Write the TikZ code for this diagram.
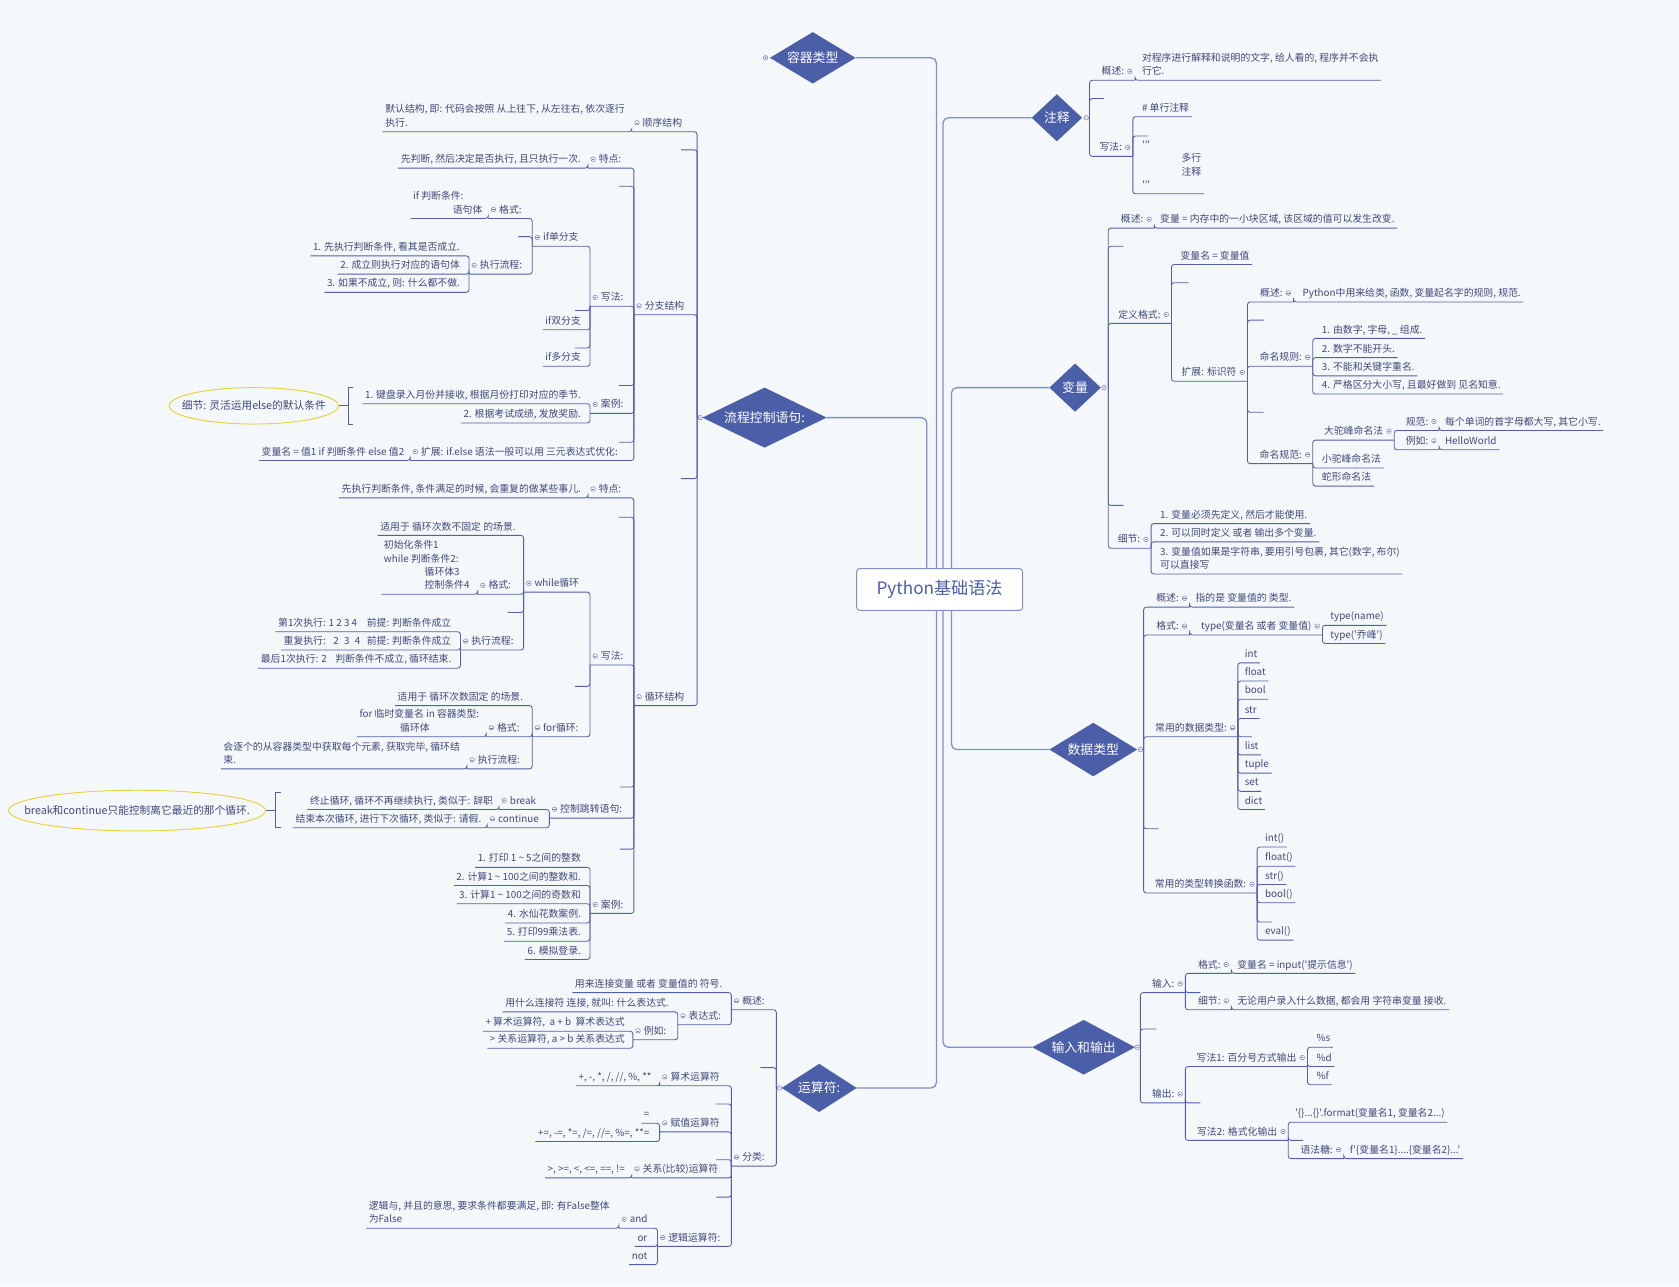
\documentclass[tikz,border=0pt]{standalone}
\usepackage{fontspec}
\usepackage{tikz}
\usetikzlibrary{shapes.geometric}
\newfontfamily\cjk{Noto Sans CJK SC}
\definecolor{bgc}{RGB}{245,248,250}
\definecolor{txc}{RGB}{62,72,124}
\definecolor{lnc}{RGB}{80,96,170}
\definecolor{trc}{RGB}{128,142,202}
\definecolor{dmc}{RGB}{75,94,168}
\definecolor{mkc}{RGB}{118,128,178}
\definecolor{ylc}{RGB}{232,210,60}
\newcommand\mkr{\tikz[baseline=-3.3pt]{\draw[mkc,line width=0.5pt,fill=white] (0,0) circle (2.1pt); \draw[mkc,line width=0.5pt] (-1.1pt,0) -- (1.1pt,0);}}

\begin{document}
\begin{tikzpicture}[x=1pt,y=-1pt,
  topic/.style={font=\cjk\fontsize{9.2}{12.5}\selectfont,text=txc,inner xsep=2.5pt,inner ysep=3pt,text depth=2pt,outer sep=0pt,align=left},
  tE/.style={topic,anchor=south east},
  tW/.style={topic,anchor=south west},
  br/.style={draw=lnc,line width=0.8pt,rounded corners=2.5pt},
  trunk/.style={draw=trc,line width=1.2pt,rounded corners=5pt},
  dia/.style={diamond,fill=dmc,text=white,inner sep=0pt,outer sep=0pt,aspect=1.7,font=\cjk\fontsize{12}{14}\selectfont},
  rootb/.style={draw=trc,line width=0.9pt,rounded corners=3pt,fill=white,text=dmc,font=\cjk\fontsize{16}{18}\selectfont,minimum width=155,minimum height=39},
  sumell/.style={ellipse,draw=ylc,line width=0.9pt,fill=bgc,text=txc,inner sep=0pt,font=\cjk\fontsize{10}{12}\selectfont},
  mkline/.style={draw=mkc,fill=white,line width=0.5pt}]
\path[fill=bgc,use as bounding box] (0,0) rectangle (1568,1201);

\node[rootb] (root) at (877.5,550.5) {Python基础语法};
\node[dia,minimum width=80,minimum height=48] (cont) at (759,54) {容器类型};
\node[dia,minimum width=116,minimum height=56] (flow) at (714,390) {流程控制语句:};
\node[dia,minimum width=70,minimum height=45] (oper) at (765,1016) {运算符:};
\node[dia,minimum width=47,minimum height=44] (note) at (987,110) {注释};
\node[dia,minimum width=48,minimum height=45] (var) at (1004,362) {变量};
\node[dia,minimum width=82,minimum height=50] (dtype) at (1021,700) {数据类型};
\node[dia,minimum width=96,minimum height=51] (io) at (1012,978) {输入和输出};

\draw[trunk] (cont.east) -| ([xshift=75pt]root.north west);
\draw[trunk] (flow.east) -| ([xshift=66pt]root.north west);
\draw[trunk] (note.west) -| ([xshift=81pt]root.north west);
\draw[trunk] (var.west) -| ([xshift=89pt]root.north west);
\draw[trunk] (oper.east) -| ([xshift=75pt]root.south west);
\draw[trunk] (io.west) -| ([xshift=81pt]root.south west);
\draw[trunk] (dtype.west) -| ([xshift=89pt]root.south west);

\coordinate (fk) at ([xshift=-5pt]flow.west);
\coordinate (ok) at ([xshift=-5pt]oper.west);
\coordinate (nk) at ([xshift=7pt]note.east);
\coordinate (vk) at ([xshift=7pt]var.east);
\coordinate (dk) at ([xshift=6pt]dtype.east);
\coordinate (ik) at ([xshift=5pt]io.east);

\node[tW] (f1) at (590,123) {\mkr\hspace{3pt}顺序结构};
\node[tE] (f1a) at (586,123) {默认结构, 即: 代码会按照 从上往下, 从左往右, 依次逐行\\执行.};
\coordinate (fs1) at (636,140);
\node[tW] (f2) at (592,294) {\mkr\hspace{3pt}分支结构};
\node[tW] (f2a) at (549,157) {\mkr\hspace{3pt}特点:};
\node[tE] (f2a1) at (545,157) {先判断, 然后决定是否执行, 且只执行一次.};
\coordinate (fs2) at (578,174);
\node[tW] (f2b) at (551,286) {\mkr\hspace{3pt}写法:};
\node[tW] (f2b1) at (497,230) {\mkr\hspace{3pt}if单分支};
\coordinate (fs3) at (484,221);
\node[tW] (f2b1a) at (456,204) {\mkr\hspace{3pt}格式:};
\node[tE] (f2b1a1) at (453,204) {if 判断条件:\\\hspace*{37pt}语句体};
\node[tW] (f2b1b) at (438,256) {\mkr\hspace{3pt}执行流程:};
\node[tE] (f2b1b1) at (432,239) {1. 先执行判断条件, 看其是否成立.};
\node[tE] (f2b1b2) at (432,256) {2. 成立则执行对应的语句体};
\node[tE] (f2b1b3) at (432,273) {3. 如果不成立, 则: 什么都不做.};
\coordinate (fs4) at (537,290);
\node[tE] (f2b2) at (545,308) {if双分支};
\coordinate (fs5) at (537,325);
\node[tE] (f2b3) at (545,342) {if多分支};
\coordinate (fs6) at (578,360);
\node[tW] (f2c) at (551,386) {\mkr\hspace{3pt}案例:};
\node[tE] (f2c1) at (545,377) {1. 键盘录入月份并接收, 根据月份打印对应的季节.};
\node[tE] (f2c2) at (545,395) {2. 根据考试成绩, 发放奖励.};
\coordinate (fs7) at (578,413);
\node[tW] (f2d) at (383,430) {\mkr\hspace{3pt}扩展: if.else 语法一般可以用 三元表达式优化:};
\node[tE] (f2d1) at (380,430) {变量名 = 值1 if 判断条件 else 值2};
\node[sumell,minimum width=158,minimum height=34] (e1) at (237,379) {\makebox[0pt]{细节: 灵活运用else的默认条件}};
\coordinate (e1a) at (325,362);
\coordinate (e1b) at (325,396);
\coordinate (e1m) at (325,379);

\coordinate (fs8) at (636,447);
\node[tW] (f3) at (592,659) {\mkr\hspace{3pt}循环结构};
\node[tW] (f3a) at (549,465) {\mkr\hspace{3pt}特点:};
\node[tE] (f3a1) at (545,465) {先执行判断条件, 条件满足的时候, 会重复的做某些事儿.};
\coordinate (fs9) at (578,483);
\node[tW] (f3b) at (551,621) {\mkr\hspace{3pt}写法:};
\node[tW] (f3b1) at (489,553) {\mkr\hspace{3pt}while循环};
\node[tE] (f3b1a) at (484,500) {适用于 循环次数不固定 的场景.};
\node[tW] (f3b1b) at (446,555) {\mkr\hspace{3pt}格式:};
\node[tE] (f3b1b1) at (441,555) {初始化条件1\\while 判断条件2:\\\hspace*{38pt}循环体3\\\hspace*{38pt}控制条件4};
\coordinate (fs10) at (474,572);
\node[tW] (f3b1c) at (430,607) {\mkr\hspace{3pt}执行流程:};
\node[tE] (f3b1c1) at (424,590) {第1次执行: 1 2 3 4\hspace{9pt}前提: 判断条件成立};
\node[tE] (f3b1c2) at (424,607) {重复执行:\hspace{7pt}2\hspace{5pt}3\hspace{5pt}4\hspace{6pt}前提: 判断条件成立};
\node[tE] (f3b1c3) at (424,624) {最后1次执行: 2\hspace{8pt}判断条件不成立, 循环结束.};
\coordinate (fs11) at (537,641);
\node[tW] (f3b2) at (497,688) {\mkr\hspace{3pt}for循环:};
\node[tE] (f3b2a) at (491,659) {适用于 循环次数固定 的场景.};
\node[tW] (f3b2b) at (454,688) {\mkr\hspace{3pt}格式:};
\node[tE] (f3b2b1) at (450,688) {for 临时变量名 in 容器类型:\\\hspace*{38pt}循环体};
\node[tW] (f3b2c) at (436,718) {\mkr\hspace{3pt}执行流程:};
\node[tE] (f3b2c1) at (432,718) {会逐个的从容器类型中获取每个元素, 获取完毕, 循环结\\束.};
\coordinate (fs12) at (579,735);
\node[tW] (f3c) at (513,764) {\mkr\hspace{3pt}控制跳转语句:};
\node[tW] (f3c1) at (466,756) {\mkr\hspace{3pt}break};
\node[tE] (f3c1a) at (463,756) {终止循环, 循环不再继续执行, 类似于: 辞职};
\node[tW] (f3c2) at (455,773) {\mkr\hspace{3pt}continue};
\node[tE] (f3c2a) at (452,773) {结束本次循环, 进行下次循环, 类似于: 请假.};
\node[sumell,minimum width=240,minimum height=38] (e2) at (128,757) {\makebox[0pt]{break和continue只能控制离它最近的那个循环.}};
\coordinate (e2a) at (257,740);
\coordinate (e2b) at (257,773);
\coordinate (e2m) at (257,757);
\coordinate (fs13) at (579,793);
\node[tW] (f3d) at (551,853) {\mkr\hspace{3pt}案例:};
\node[tE] (f3d1) at (545,810) {1. 打印 1 \textasciitilde{} 5之间的整数};
\node[tE] (f3d2) at (545,827) {2. 计算1 \textasciitilde{} 100之间的整数和.};
\node[tE] (f3d3) at (545,844) {3. 计算1 \textasciitilde{} 100之间的奇数和};
\node[tE] (f3d4) at (545,862) {4. 水仙花数案例.};
\node[tE] (f3d5) at (545,879) {5. 打印99乘法表.};
\node[tE] (f3d6) at (545,896) {6. 模拟登录.};

\node[tW] (o1) at (683,943) {\mkr\hspace{3pt}概述:};
\node[tE] (o1a) at (677,927) {用来连接变量 或者 变量值的 符号.};
\node[tW] (o1b) at (633,957) {\mkr\hspace{3pt}表达式:};
\node[tE] (o1b1) at (627,945) {用什么连接符 连接, 就叫: 什么表达式.};
\node[tW] (o1b2) at (591,971) {\mkr\hspace{3pt}例如:};
\node[tE] (o1b2a) at (586,963) {+ 算术运算符,\ \ a + b\ \ 算术表达式};
\node[tE] (o1b2b) at (586,979) {> 关系运算符, a > b 关系表达式};
\coordinate (os1) at (710,997);
\node[tW] (o2) at (683,1089) {\mkr\hspace{3pt}分类:};
\node[tW] (o2a) at (616,1014) {\mkr\hspace{3pt}算术运算符};
\node[tE] (o2a1) at (611,1014) {+, -, *, /, //, \%, **};
\coordinate (os2) at (669,1031);
\node[tW] (o2b) at (616,1057) {\mkr\hspace{3pt}赋值运算符};
\node[tE] (o2b1) at (609,1049) {=};
\node[tE] (o2b2) at (609,1066) {+=, -=, *=, /=, //=, \%=, **=};
\coordinate (os3) at (669,1083);
\node[tW] (o2c) at (590,1100) {\mkr\hspace{3pt}关系(比较)运算符};
\node[tE] (o2c1) at (586,1100) {>, >=, <, <=, ==, !=};
\coordinate (os4) at (669,1118);
\node[tW] (o2d) at (614,1164) {\mkr\hspace{3pt}逻辑运算符:};
\node[tW] (o2d1) at (578,1147) {\mkr\hspace{3pt}and};
\node[tE] (o2d1a) at (572,1147) {逻辑与, 并且的意思, 要求条件都要满足, 即: 有False整体\\为False};
\node[tE] (o2d2) at (607,1164) {or};
\node[tE] (o2d3) at (607,1181) {not};

\node[tE] (n1) at (1060,75) {概述:\hspace{3pt}\mkr};
\node[tW] (n1a) at (1064,75) {对程序进行解释和说明的文字, 给人看的, 程序并不会执\\行它.};
\coordinate (ns1) at (1031,92);
\node[tE] (n2) at (1058,146) {写法:\hspace{3pt}\mkr};
\node[tW] (n2a) at (1064,109) {\# 单行注释};
\coordinate (ns2) at (1072,127);
\node[tW] (n2b) at (1064,181) {'''\\\hspace*{37pt}多行\\\hspace*{37pt}注释\\'''};

\node[tE] (v1) at (1078,213) {概述:\hspace{3pt}\mkr};
\node[tW] (v1a) at (1081,213) {变量 = 内存中的一小块区域, 该区域的值可以发生改变.};
\coordinate (vs1) at (1049,230);
\node[tE] (v2) at (1094,302) {定义格式:\hspace{3pt}\mkr};
\node[tW] (v2a) at (1100,247) {变量名 = 变量值};
\coordinate (vs2) at (1110,264);
\node[tE] (v2b) at (1165,356) {扩展: 标识符\hspace{3pt}\mkr};
\node[tE] (v2b1) at (1208,282) {概述:\hspace{3pt}\mkr};
\node[tW] (v2b1a) at (1214,282) {Python中用来给类, 函数, 变量起名字的规则, 规范.};
\coordinate (vs3) at (1180,299);
\node[tE] (v2b2) at (1226,342) {命名规则:\hspace{3pt}\mkr};
\node[tW] (v2b2a) at (1232,316) {1. 由数字, 字母, \_ 组成.};
\node[tW] (v2b2b) at (1232,334) {2. 数字不能开头.};
\node[tW] (v2b2c) at (1232,351) {3. 不能和关键字重名.};
\node[tW] (v2b2d) at (1232,368) {4. 严格区分大小写, 且最好做到 见名知意.};
\coordinate (vs4) at (1180,385);
\node[tE] (v2b3) at (1226,433) {命名规范:\hspace{3pt}\mkr};
\node[tE] (v2b3a) at (1302,411) {大驼峰命名法\hspace{3pt}\mkr};
\node[tE] (v2b3a1) at (1344,402) {规范:\hspace{3pt}\mkr};
\node[tW] (v2b3a1a) at (1347,402) {每个单词的首字母都大写, 其它小写.};
\node[tE] (v2b3a2) at (1344,420) {例如:\hspace{3pt}\mkr};
\node[tW] (v2b3a2a) at (1347,420) {HelloWorld};
\node[tW] (v2b3b) at (1232,437) {小驼峰命名法};
\node[tW] (v2b3c) at (1232,454) {蛇形命名法};
\coordinate (vs5) at (1049,472);
\node[tE] (v3) at (1075,512) {细节:\hspace{3pt}\mkr};
\node[tW] (v3a) at (1081,489) {1. 变量必须先定义, 然后才能使用.};
\node[tW] (v3b) at (1081,506) {2. 可以同时定义 或者 输出多个变量.};
\node[tW] (v3c) at (1081,536) {3. 变量值如果是字符串, 要用引号包裹, 其它(数字, 布尔)\\可以直接写};

\node[tE] (d1) at (1111,567) {概述:\hspace{3pt}\mkr};
\node[tW] (d1a) at (1114,567) {指的是 变量值的 类型.};
\node[tE] (d2) at (1111,593) {格式:\hspace{3pt}\mkr};
\node[tE] (d2a) at (1235,593) {type(变量名 或者 变量值)\hspace{3pt}\mkr};
\node[tW] (d2a1) at (1240,584) {type(name)};
\node[tW] (d2a2) at (1240,601) {type('乔峰')};
\node[tE] (d3) at (1156,688) {常用的数据类型:\hspace{3pt}\mkr};
\node[tW] (d3a) at (1160,619) {int};
\node[tW] (d3b) at (1160,636) {float};
\node[tW] (d3c) at (1160,653) {bool};
\node[tW] (d3d) at (1160,671) {str};
\coordinate (ds1) at (1169,688);
\node[tW] (d3e) at (1160,705) {list};
\node[tW] (d3f) at (1160,722) {tuple};
\node[tW] (d3g) at (1160,739) {set};
\node[tW] (d3h) at (1160,756) {dict};
\coordinate (ds2) at (1082,774);
\node[tE] (d4) at (1174,834) {常用的类型转换函数:\hspace{3pt}\mkr};
\node[tW] (d4a) at (1179,791) {int()};
\node[tW] (d4b) at (1179,809) {float()};
\node[tW] (d4c) at (1179,826) {str()};
\node[tW] (d4d) at (1179,843) {bool()};
\coordinate (ds3) at (1188,861);
\node[tW] (d4e) at (1179,878) {eval()};

\node[tE] (i1) at (1107,927) {输入:\hspace{3pt}\mkr};
\coordinate (is1) at (1121,927);
\node[tE] (i1a) at (1150,909) {格式:\hspace{3pt}\mkr};
\node[tW] (i1a1) at (1153,909) {变量名 = input('提示信息')};
\node[tE] (i1b) at (1150,943) {细节:\hspace{3pt}\mkr};
\node[tW] (i1b1) at (1153,943) {无论用户录入什么数据, 都会用 字符串变量 接收.};
\coordinate (is2) at (1080,961);
\node[tE] (i2) at (1107,1030) {输出:\hspace{3pt}\mkr};
\coordinate (is3) at (1121,1030);
\node[tE] (i2a) at (1221,996) {写法1: 百分号方式输出\hspace{3pt}\mkr};
\node[tW] (i2a1) at (1227,978) {\%s};
\node[tW] (i2a2) at (1227,996) {\%d};
\node[tW] (i2a3) at (1227,1013) {\%f};
\node[tE] (i2b) at (1203,1065) {写法2: 格式化输出\hspace{3pt}\mkr};
\node[tW] (i2b1) at (1207,1048) {'\{\}...\{\}'.format(变量名1, 变量名2...)};
\coordinate (is4) at (1217,1065);
\node[tE] (i2b2) at (1255,1082) {语法糖:\hspace{3pt}\mkr};
\node[tW] (i2b2a) at (1258,1082) {f'\{变量名1\}....\{变量名2\}...'};

\draw[br] (f1.south west) -| (fk);
\draw[br] (f1a.south west) -| (f1.south west);
\draw[br] (fs1) -| (fk);
\draw[br] (f2.south west) -| (fk);
\draw[br] (f2a.south west) -| (f2.south west);
\draw[br] (f2a1.south west) -| (f2a.south west);
\draw[br] (fs2) -| (f2.south west);
\draw[br] (f2b.south west) -| (f2.south west);
\draw[br] (f2b1.south west) -| (f2b.south west);
\draw[br] (fs3) -| (f2b1.south west);
\draw[br] (f2b1a.south west) -| (f2b1.south west);
\draw[br] (f2b1a1.south west) -| (f2b1a.south west);
\draw[br] (f2b1b.south west) -| (f2b1.south west);
\draw[br] (f2b1b1.south west) -| (f2b1b.south west);
\draw[br] (f2b1b2.south west) -| (f2b1b.south west);
\draw[br] (f2b1b3.south west) -| (f2b1b.south west);
\draw[br] (fs4) -| (f2b.south west);
\draw[br] (f2b2.south west) -| (f2b.south west);
\draw[br] (fs5) -| (f2b.south west);
\draw[br] (f2b3.south west) -| (f2b.south west);
\draw[br] (fs6) -| (f2.south west);
\draw[br] (f2c.south west) -| (f2.south west);
\draw[br] (f2c1.south west) -| (f2c.south west);
\draw[br] (f2c2.south west) -| (f2c.south west);
\draw[br] (fs7) -| (f2.south west);
\draw[br] (f2d.south west) -| (f2.south west);
\draw[br] (f2d1.south west) -| (f2d.south west);
\draw[br,rounded corners=0pt] ([xshift=5pt]e1a) -- (e1a) -- (e1b) -- ([xshift=5pt]e1b);
\draw[br] (e1m) -- (e1.east);

\draw[br] (fs8) -| (fk);
\draw[br] (f3.south west) -| (fk);
\draw[br] (f3a.south west) -| (f3.south west);
\draw[br] (f3a1.south west) -| (f3a.south west);
\draw[br] (fs9) -| (f3.south west);
\draw[br] (f3b.south west) -| (f3.south west);
\draw[br] (f3b1.south west) -| (f3b.south west);
\draw[br] (f3b1a.south west) -| (f3b1.south west);
\draw[br] (f3b1b.south west) -| (f3b1.south west);
\draw[br] (f3b1b1.south west) -| (f3b1b.south west);
\draw[br] (fs10) -| (f3b1.south west);
\draw[br] (f3b1c.south west) -| (f3b1.south west);
\draw[br] (f3b1c1.south west) -| (f3b1c.south west);
\draw[br] (f3b1c2.south west) -| (f3b1c.south west);
\draw[br] (f3b1c3.south west) -| (f3b1c.south west);
\draw[br] (fs11) -| (f3b.south west);
\draw[br] (f3b2.south west) -| (f3b.south west);
\draw[br] (f3b2a.south west) -| (f3b2.south west);
\draw[br] (f3b2b.south west) -| (f3b2.south west);
\draw[br] (f3b2b1.south west) -| (f3b2b.south west);
\draw[br] (f3b2c.south west) -| (f3b2.south west);
\draw[br] (f3b2c1.south west) -| (f3b2c.south west);
\draw[br] (fs12) -| (f3.south west);
\draw[br] (f3c.south west) -| (f3.south west);
\draw[br] (f3c1.south west) -| (f3c.south west);
\draw[br] (f3c1a.south west) -| (f3c1.south west);
\draw[br] (f3c2.south west) -| (f3c.south west);
\draw[br] (f3c2a.south west) -| (f3c2.south west);
\draw[br,rounded corners=0pt] ([xshift=5pt]e2a) -- (e2a) -- (e2b) -- ([xshift=5pt]e2b);
\draw[br] (e2m) -- (e2.east);
\draw[br] (fs13) -| (f3.south west);
\draw[br] (f3d.south west) -| (f3.south west);
\draw[br] (f3d1.south west) -| (f3d.south west);
\draw[br] (f3d2.south west) -| (f3d.south west);
\draw[br] (f3d3.south west) -| (f3d.south west);
\draw[br] (f3d4.south west) -| (f3d.south west);
\draw[br] (f3d5.south west) -| (f3d.south west);
\draw[br] (f3d6.south west) -| (f3d.south west);

\draw[br] (o1.south west) -| (ok);
\draw[br] (o1a.south west) -| (o1.south west);
\draw[br] (o1b.south west) -| (o1.south west);
\draw[br] (o1b1.south west) -| (o1b.south west);
\draw[br] (o1b2.south west) -| (o1b.south west);
\draw[br] (o1b2a.south west) -| (o1b2.south west);
\draw[br] (o1b2b.south west) -| (o1b2.south west);
\draw[br] (os1) -| (ok);
\draw[br] (o2.south west) -| (ok);
\draw[br] (o2a.south west) -| (o2.south west);
\draw[br] (o2a1.south west) -| (o2a.south west);
\draw[br] (os2) -| (o2.south west);
\draw[br] (o2b.south west) -| (o2.south west);
\draw[br] (o2b1.south west) -| (o2b.south west);
\draw[br] (o2b2.south west) -| (o2b.south west);
\draw[br] (os3) -| (o2.south west);
\draw[br] (o2c.south west) -| (o2.south west);
\draw[br] (o2c1.south west) -| (o2c.south west);
\draw[br] (os4) -| (o2.south west);
\draw[br] (o2d.south west) -| (o2.south west);
\draw[br] (o2d1.south west) -| (o2d.south west);
\draw[br] (o2d1a.south west) -| (o2d1.south west);
\draw[br] (o2d2.south west) -| (o2d.south west);
\draw[br] (o2d3.south west) -| (o2d.south west);

\draw[br] (n1.south east) -| (nk);
\draw[br] (n1a.south east) -| (n1.south east);
\draw[br] (ns1) -| (nk);
\draw[br] (n2.south east) -| (nk);
\draw[br] (n2a.south east) -| (n2.south east);
\draw[br] (ns2) -| (n2.south east);
\draw[br] (n2b.south east) -| (n2.south east);

\draw[br] (v1.south east) -| (vk);
\draw[br] (v1a.south east) -| (v1.south east);
\draw[br] (vs1) -| (vk);
\draw[br] (v2.south east) -| (vk);
\draw[br] (v2a.south east) -| (v2.south east);
\draw[br] (vs2) -| (v2.south east);
\draw[br] (v2b.south east) -| (v2.south east);
\draw[br] (v2b1.south east) -| (v2b.south east);
\draw[br] (v2b1a.south east) -| (v2b1.south east);
\draw[br] (vs3) -| (v2b.south east);
\draw[br] (v2b2.south east) -| (v2b.south east);
\draw[br] (v2b2a.south east) -| (v2b2.south east);
\draw[br] (v2b2b.south east) -| (v2b2.south east);
\draw[br] (v2b2c.south east) -| (v2b2.south east);
\draw[br] (v2b2d.south east) -| (v2b2.south east);
\draw[br] (vs4) -| (v2b.south east);
\draw[br] (v2b3.south east) -| (v2b.south east);
\draw[br] (v2b3a.south east) -| (v2b3.south east);
\draw[br] (v2b3a1.south east) -| (v2b3a.south east);
\draw[br] (v2b3a1a.south east) -| (v2b3a1.south east);
\draw[br] (v2b3a2.south east) -| (v2b3a.south east);
\draw[br] (v2b3a2a.south east) -| (v2b3a2.south east);
\draw[br] (v2b3b.south east) -| (v2b3.south east);
\draw[br] (v2b3c.south east) -| (v2b3.south east);
\draw[br] (vs5) -| (vk);
\draw[br] (v3.south east) -| (vk);
\draw[br] (v3a.south east) -| (v3.south east);
\draw[br] (v3b.south east) -| (v3.south east);
\draw[br] (v3c.south east) -| (v3.south east);

\draw[br] (d1.south east) -| (dk);
\draw[br] (d1a.south east) -| (d1.south east);
\draw[br] (d2.south east) -| (dk);
\draw[br] (d2a.south east) -| (d2.south east);
\draw[br] (d2a1.south east) -| (d2a.south east);
\draw[br] (d2a2.south east) -| (d2a.south east);
\draw[br] (d3.south east) -| (dk);
\draw[br] (d3a.south east) -| (d3.south east);
\draw[br] (d3b.south east) -| (d3.south east);
\draw[br] (d3c.south east) -| (d3.south east);
\draw[br] (d3d.south east) -| (d3.south east);
\draw[br] (ds1) -| (d3.south east);
\draw[br] (d3e.south east) -| (d3.south east);
\draw[br] (d3f.south east) -| (d3.south east);
\draw[br] (d3g.south east) -| (d3.south east);
\draw[br] (d3h.south east) -| (d3.south east);
\draw[br] (ds2) -| (dk);
\draw[br] (d4.south east) -| (dk);
\draw[br] (d4a.south east) -| (d4.south east);
\draw[br] (d4b.south east) -| (d4.south east);
\draw[br] (d4c.south east) -| (d4.south east);
\draw[br] (d4d.south east) -| (d4.south east);
\draw[br] (ds3) -| (d4.south east);
\draw[br] (d4e.south east) -| (d4.south east);

\draw[br] (i1.south east) -| (ik);
\draw[br] (is1) -| (i1.south east);
\draw[br] (i1a.south east) -| (i1.south east);
\draw[br] (i1a1.south east) -| (i1a.south east);
\draw[br] (i1b.south east) -| (i1.south east);
\draw[br] (i1b1.south east) -| (i1b.south east);
\draw[br] (is2) -| (ik);
\draw[br] (i2.south east) -| (ik);
\draw[br] (is3) -| (i2.south east);
\draw[br] (i2a.south east) -| (i2.south east);
\draw[br] (i2a1.south east) -| (i2a.south east);
\draw[br] (i2a2.south east) -| (i2a.south east);
\draw[br] (i2a3.south east) -| (i2a.south east);
\draw[br] (i2b.south east) -| (i2.south east);
\draw[br] (i2b1.south east) -| (i2b.south east);
\draw[br] (is4) -| (i2b.south east);
\draw[br] (i2b2.south east) -| (i2b.south east);
\draw[br] (i2b2a.south east) -| (i2b2.south east);

\draw[mkline] ([xshift=-4pt]cont.west) circle (2.1pt) ++(-1.1pt,0) -- ++(2.2pt,0) ++(-1.1pt,-1.1pt) -- ++(0,2.2pt);
\draw[mkline] ([xshift=-2pt]flow.west) circle (2.1pt) ++(-1.1pt,0) -- ++(2.2pt,0);
\draw[mkline] ([xshift=-2pt]oper.west) circle (2.1pt) ++(-1.1pt,0) -- ++(2.2pt,0);
\draw[mkline] ([xshift=4pt]note.east) circle (2.1pt) ++(-1.1pt,0) -- ++(2.2pt,0);
\draw[mkline] ([xshift=3pt]var.east) circle (2.1pt) ++(-1.1pt,0) -- ++(2.2pt,0);
\draw[mkline] ([xshift=3pt]dtype.east) circle (2.1pt) ++(-1.1pt,0) -- ++(2.2pt,0);
\draw[mkline] ([xshift=2pt]io.east) circle (2.1pt) ++(-1.1pt,0) -- ++(2.2pt,0);
\end{tikzpicture}
\end{document}
